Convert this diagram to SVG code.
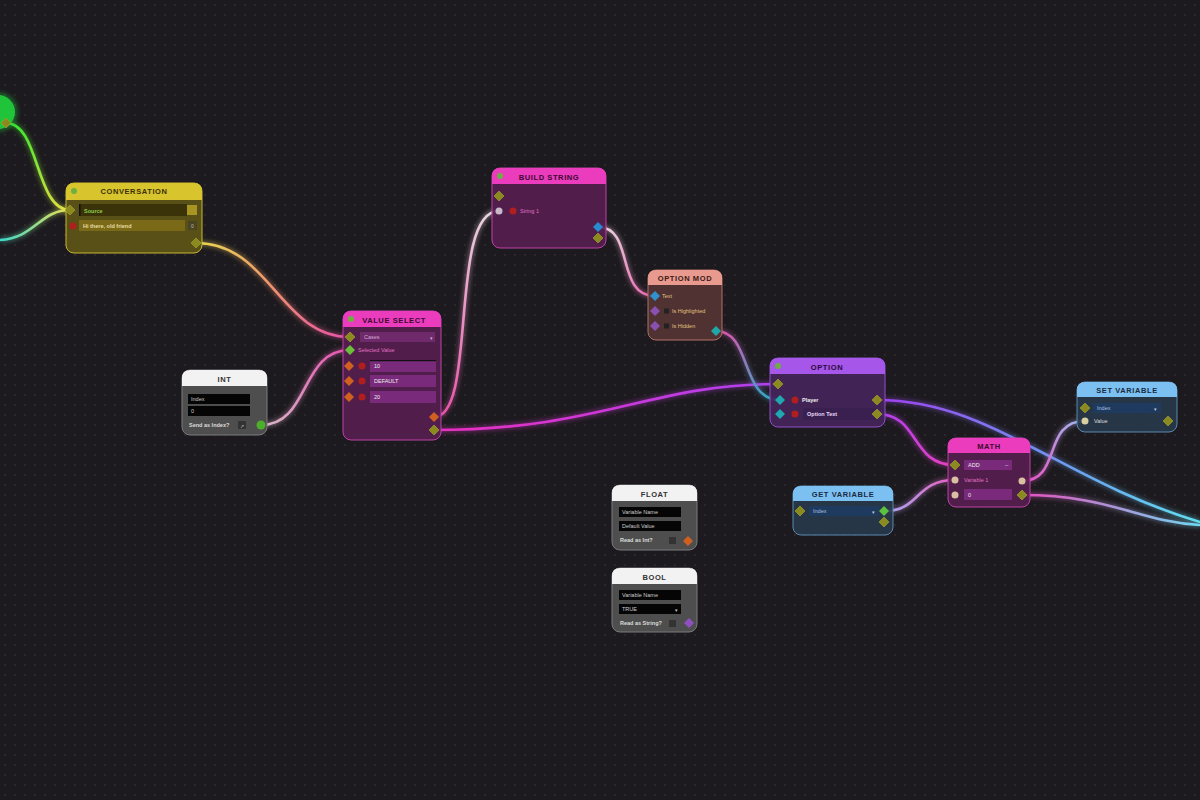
<svg xmlns="http://www.w3.org/2000/svg" width="1200" height="800" viewBox="0 0 1200 800">
<defs>
<pattern id="grid" width="10" height="10" patternUnits="userSpaceOnUse">
<rect width="10" height="10" fill="#1c1a1e"/>
<rect x="4" y="4" width="2" height="2" fill="#2b292d"/>
</pattern>
<filter id="glow" x="-20%" y="-20%" width="140%" height="140%">
<feGaussianBlur stdDeviation="2"/>
</filter>
<linearGradient id="g1" gradientUnits="userSpaceOnUse" x1="6" y1="123" x2="70" y2="210"><stop offset="0" stop-color="#30e830"/><stop offset="1" stop-color="#e8e040"/></linearGradient>
<linearGradient id="g2" gradientUnits="userSpaceOnUse" x1="0" y1="240" x2="70" y2="210"><stop offset="0" stop-color="#40d8c8"/><stop offset="1" stop-color="#e8e050"/></linearGradient>
<linearGradient id="g3" gradientUnits="userSpaceOnUse" x1="196" y1="243" x2="350" y2="337"><stop offset="0" stop-color="#e8d850"/><stop offset="0.5" stop-color="#f09070"/><stop offset="1" stop-color="#e850a8"/></linearGradient>
<linearGradient id="g4" gradientUnits="userSpaceOnUse" x1="261" y1="425" x2="350" y2="350"><stop offset="0" stop-color="#d8b8c8"/><stop offset="1" stop-color="#e850b0"/></linearGradient>
<linearGradient id="g5" gradientUnits="userSpaceOnUse" x1="434" y1="417" x2="499" y2="211"><stop offset="0" stop-color="#e850a8"/><stop offset="1" stop-color="#e8d8e0"/></linearGradient>
<linearGradient id="g6" gradientUnits="userSpaceOnUse" x1="434" y1="430" x2="778" y2="384"><stop offset="0" stop-color="#e830c0"/><stop offset="1" stop-color="#b040f0"/></linearGradient>
<linearGradient id="g7" gradientUnits="userSpaceOnUse" x1="598" y1="227" x2="655" y2="296"><stop offset="0" stop-color="#e8d8e0"/><stop offset="1" stop-color="#e868b0"/></linearGradient>
<linearGradient id="g8" gradientUnits="userSpaceOnUse" x1="716" y1="331" x2="780" y2="400"><stop offset="0" stop-color="#e850b0"/><stop offset="1" stop-color="#20b0c8"/></linearGradient>
<linearGradient id="g9" gradientUnits="userSpaceOnUse" x1="877" y1="400" x2="1200" y2="522"><stop offset="0" stop-color="#a040f0"/><stop offset="0.5" stop-color="#7090f0"/><stop offset="1" stop-color="#60e0f0"/></linearGradient>
<linearGradient id="g10" gradientUnits="userSpaceOnUse" x1="877" y1="414" x2="955" y2="465"><stop offset="0" stop-color="#b040f0"/><stop offset="1" stop-color="#e840c0"/></linearGradient>
<linearGradient id="g11" gradientUnits="userSpaceOnUse" x1="885" y1="511" x2="955" y2="480"><stop offset="0" stop-color="#a8a8f0"/><stop offset="1" stop-color="#e860c0"/></linearGradient>
<linearGradient id="g12" gradientUnits="userSpaceOnUse" x1="1022" y1="481" x2="1085" y2="421"><stop offset="0" stop-color="#e850c0"/><stop offset="1" stop-color="#a0b8f0"/></linearGradient>
<linearGradient id="g13" gradientUnits="userSpaceOnUse" x1="1022" y1="495" x2="1200" y2="525"><stop offset="0" stop-color="#e850c0"/><stop offset="1" stop-color="#70d8f0"/></linearGradient>
</defs>
<style>
text{font-family:"Liberation Sans","DejaVu Sans",sans-serif}
.wire{fill:none;stroke-width:2.6;stroke-linecap:round}
.halo{fill:none;stroke-width:6;opacity:0.35;filter:url(#glow)}
.title{font-size:7.5px;font-weight:bold;letter-spacing:0.6px;text-anchor:middle}
.lbl{font-size:5.5px}
.olive{fill:#8a8a1e;stroke:#a8a830;stroke-width:0.6}
.red{fill:#b01e1e}
.hdot{fill:#6cb040}
</style>
<rect width="1200" height="800" fill="url(#grid)"/>

<g id="connectors">
<path class="halo" stroke="url(#g1)" d="M6,123 C40,123 35,210 70,210"/>
<path class="wire" stroke="url(#g1)" d="M6,123 C40,123 35,210 70,210"/>
<path class="halo" stroke="url(#g2)" d="M0,240 C35,238 40,210 70,210"/>
<path class="wire" stroke="url(#g2)" d="M0,240 C35,238 40,210 70,210"/>
<path class="halo" stroke="url(#g3)" d="M196,243 C270,243 280,337 350,337"/>
<path class="wire" stroke="url(#g3)" d="M196,243 C270,243 280,337 350,337"/>
<path class="halo" stroke="url(#g4)" d="M261,425 C310,425 300,350 350,350"/>
<path class="wire" stroke="url(#g4)" d="M261,425 C310,425 300,350 350,350"/>
<path class="halo" stroke="url(#g5)" d="M434,417 C478,417 448,211 499,211"/>
<path class="wire" stroke="url(#g5)" d="M434,417 C478,417 448,211 499,211"/>
<path class="halo" stroke="url(#g6)" d="M434,430 C600,430 650,384 778,384"/>
<path class="wire" stroke="url(#g6)" d="M434,430 C600,430 650,384 778,384"/>
<path class="halo" stroke="url(#g7)" d="M598,227 C635,227 615,296 655,296"/>
<path class="wire" stroke="url(#g7)" d="M598,227 C635,227 615,296 655,296"/>
<path class="halo" stroke="url(#g8)" d="M716,331 C752,331 740,400 780,400"/>
<path class="wire" stroke="url(#g8)" d="M716,331 C752,331 740,400 780,400"/>
<path class="halo" stroke="url(#g9)" d="M877,400 C990,400 1060,480 1200,522"/>
<path class="wire" stroke="url(#g9)" d="M877,400 C990,400 1060,480 1200,522"/>
<path class="halo" stroke="url(#g10)" d="M877,414 C920,414 910,465 955,465"/>
<path class="wire" stroke="url(#g10)" d="M877,414 C920,414 910,465 955,465"/>
<path class="halo" stroke="url(#g11)" d="M885,511 C920,511 915,480 955,480"/>
<path class="wire" stroke="url(#g11)" d="M885,511 C920,511 915,480 955,480"/>
<path class="halo" stroke="url(#g12)" d="M1022,481 C1062,481 1042,421 1085,421"/>
<path class="wire" stroke="url(#g12)" d="M1022,481 C1062,481 1042,421 1085,421"/>
<path class="halo" stroke="url(#g13)" d="M1022,495 C1110,495 1140,522 1200,525"/>
<path class="wire" stroke="url(#g13)" d="M1022,495 C1110,495 1140,522 1200,525"/>
</g>

<g id="node-start">
<circle cx="-2" cy="112" r="20" fill="#22d040" opacity="0.35" filter="url(#glow)"/>
<circle cx="-2" cy="112" r="17" fill="#1fc43a"/>
<path class="olive" d="M6,118 L11,123 L6,128 L1,123 Z"/>
</g>

<g id="node-conversation">
<rect x="66" y="183" width="136" height="70" rx="8" fill="#5d5516" fill-opacity="0.92" stroke="#c8b830" stroke-width="1"/>
<path d="M66,200 V191 Q66,183 74,183 H194 Q202,183 202,191 V200 Z" fill="#d8c42c"/>
<circle class="hdot" cx="74" cy="191" r="3"/>
<text class="title" x="134" y="194" fill="#3a3008">CONVERSATION</text>
<path class="olive" d="M70,205 L75,210 L70,215 L65,210 Z"/>
<rect x="79" y="204" width="108" height="12" fill="#3a3208"/>
<rect x="79" y="204" width="1.5" height="12" fill="#111"/>
<text class="lbl" x="84" y="212.5" fill="#8ed04a" font-weight="bold">Source</text>
<rect x="187" y="205" width="10" height="10" fill="#a89420"/>
<circle class="red" cx="73" cy="226" r="3.5"/>
<rect x="79" y="220" width="106" height="11" fill="#7a6a18"/>
<text class="lbl" x="83" y="228" fill="#e8dca0" font-weight="bold">Hi there, old friend</text>
<rect x="188" y="221" width="9" height="9" fill="#4a4520"/>
<text x="192.5" y="228" font-size="5" fill="#bbb" text-anchor="middle">0</text>
<path class="olive" d="M196,238 L201,243 L196,248 L191,243 Z"/>
</g>

<g id="node-int">
<rect x="182" y="370" width="85" height="65" rx="8" fill="#4e4e4e" stroke="#7a7a7a" stroke-width="1"/>
<path d="M182,386 V378 Q182,370 190,370 H259 Q267,370 267,378 V386 Z" fill="#f2f2f2"/>
<text class="title" x="224.5" y="381.5" fill="#333">INT</text>
<rect x="188" y="394" width="62" height="10" fill="#050505"/>
<text class="lbl" x="191" y="401" fill="#ccc">Index</text>
<rect x="188" y="406" width="62" height="10" fill="#050505"/>
<text class="lbl" x="191" y="413" fill="#ccc">0</text>
<text class="lbl" x="189" y="427" fill="#ddd" font-weight="bold">Send as Index?</text>
<rect x="238" y="421" width="8" height="8" fill="#333"/>
<text x="242" y="427.5" font-size="5" fill="#bbb" text-anchor="middle">↗</text>
<circle cx="261" cy="425" r="4.5" fill="#4cae2a"/>
</g>

<g id="node-value-select">
<rect x="343" y="311" width="98" height="129" rx="8" fill="#561e50" fill-opacity="0.92" stroke="#c040a8" stroke-width="1"/>
<path d="M343,327 V319 Q343,311 351,311 H433 Q441,311 441,319 V327 Z" fill="#ea3cbc"/>
<circle class="hdot" cx="351" cy="319" r="3"/>
<text class="title" x="394" y="322.5" fill="#3a0a30">VALUE SELECT</text>
<path class="olive" d="M350,332 L355,337 L350,342 L345,337 Z"/>
<rect x="360" y="332" width="75" height="10" fill="#6e2a6a"/>
<text class="lbl" x="364" y="339" fill="#d8a8d8">Cases</text>
<text x="430" y="339.5" font-size="5" fill="#d8a8d8">▾</text>
<path d="M350,345 L355,350 L350,355 L345,350 Z" fill="#6cbf3a"/>
<text class="lbl" x="358" y="352" fill="#e070c0">Selected Value</text>
<path d="M349,361 L354,366 L349,371 L344,366 Z" fill="#d06020"/>
<circle class="red" cx="362" cy="366" r="3.5"/>
<rect x="370" y="360" width="66" height="12" fill="#7a2a7a"/>
<rect x="370" y="360" width="66" height="1.2" fill="#111"/>
<text class="lbl" x="374" y="368" fill="#eee">10</text>
<path d="M349,376 L354,381 L349,386 L344,381 Z" fill="#d06020"/>
<circle class="red" cx="362" cy="381" r="3.5"/>
<rect x="370" y="375" width="66" height="12" fill="#7a2a7a"/>
<text class="lbl" x="374" y="383" fill="#eee">DEFAULT</text>
<path d="M349,392 L354,397 L349,402 L344,397 Z" fill="#d06020"/>
<circle class="red" cx="362" cy="397" r="3.5"/>
<rect x="370" y="391" width="66" height="12" fill="#7a2a7a"/>
<text class="lbl" x="374" y="399" fill="#eee">20</text>
<path d="M434,412 L439,417 L434,422 L429,417 Z" fill="#d06020"/>
<path class="olive" d="M434,425 L439,430 L434,435 L429,430 Z"/>
</g>

<g id="node-build-string">
<rect x="492" y="168" width="114" height="80" rx="8" fill="#561e50" fill-opacity="0.92" stroke="#c040a8" stroke-width="1"/>
<path d="M492,184 V176 Q492,168 500,168 H598 Q606,168 606,176 V184 Z" fill="#ea3cbc"/>
<circle class="hdot" cx="500" cy="176" r="3"/>
<text class="title" x="549" y="179.5" fill="#3a0a30">BUILD STRING</text>
<path class="olive" d="M499,191 L504,196 L499,201 L494,196 Z"/>
<circle cx="499" cy="211" r="3.5" fill="#c8b8c8"/>
<circle class="red" cx="513" cy="211" r="3.5"/>
<text class="lbl" x="520" y="213" fill="#e070c0">String 1</text>
<path d="M598,222 L603,227 L598,232 L593,227 Z" fill="#2a8ad0"/>
<path class="olive" d="M598,233 L603,238 L598,243 L593,238 Z"/>
</g>

<g id="node-option-mod">
<rect x="648" y="270" width="74" height="70" rx="8" fill="#553434" fill-opacity="0.92" stroke="#b07068" stroke-width="1"/>
<path d="M648,285 V278 Q648,270 656,270 H714 Q722,270 722,278 V285 Z" fill="#e99a8e"/>
<text class="title" x="685" y="281" fill="#3a1a18" font-size="7">OPTION MOD</text>
<path d="M655,291 L660,296 L655,301 L650,296 Z" fill="#3090d0"/>
<text class="lbl" x="662" y="298" fill="#e0c080">Text</text>
<path d="M655,306 L660,311 L655,316 L650,311 Z" fill="#8a50b0"/>
<rect x="664" y="308.5" width="5" height="5" fill="#222"/>
<text class="lbl" x="672" y="313" fill="#e0c080">Is Highlighted</text>
<path d="M655,321 L660,326 L655,331 L650,326 Z" fill="#8a50b0"/>
<rect x="664" y="323.5" width="5" height="5" fill="#222"/>
<text class="lbl" x="672" y="328" fill="#e0c080">Is Hidden</text>
<path d="M716,326 L721,331 L716,336 L711,331 Z" fill="#20a8a8"/>
</g>

<g id="node-option">
<rect x="770" y="358" width="115" height="69" rx="8" fill="#44245a" fill-opacity="0.92" stroke="#9050c8" stroke-width="1"/>
<path d="M770,374 V366 Q770,358 778,358 H877 Q885,358 885,366 V374 Z" fill="#a656e8"/>
<circle class="hdot" cx="778" cy="366" r="3"/>
<text class="title" x="827" y="369.5" fill="#2a0a40">OPTION</text>
<path class="olive" d="M778,379 L783,384 L778,389 L773,384 Z"/>
<path d="M780,395 L785,400 L780,405 L775,400 Z" fill="#20a8b0"/>
<circle class="red" cx="795" cy="400" r="3.5"/>
<text class="lbl" x="802" y="402" fill="#eee" font-weight="bold">Player</text>
<path d="M780,409 L785,414 L780,419 L775,414 Z" fill="#20a8b0"/>
<circle class="red" cx="795" cy="414" r="3.5"/>
<rect x="803" y="408" width="74" height="12" fill="#3a2050"/>
<text class="lbl" x="807" y="416" fill="#e8d8f8" font-weight="bold">Option Text</text>
<path class="olive" d="M877,395 L882,400 L877,405 L872,400 Z"/>
<path class="olive" d="M877,409 L882,414 L877,419 L872,414 Z"/>
</g>

<g id="node-math">
<rect x="948" y="438" width="82" height="69" rx="8" fill="#561e50" fill-opacity="0.92" stroke="#c040a8" stroke-width="1"/>
<path d="M948,453 V446 Q948,438 956,438 H1022 Q1030,438 1030,446 V453 Z" fill="#ea3cbc"/>
<text class="title" x="989" y="449" fill="#3a0a30">MATH</text>
<path class="olive" d="M955,460 L960,465 L955,470 L950,465 Z"/>
<rect x="964" y="460" width="48" height="10" fill="#7a2a7a"/>
<text class="lbl" x="968" y="467" fill="#eee">ADD</text>
<text x="1005" y="467" font-size="6" fill="#ddd">–</text>
<circle cx="955" cy="480" r="3.5" fill="#d8c0a0"/>
<text class="lbl" x="964" y="482" fill="#e070c0">Variable 1</text>
<circle cx="955" cy="495" r="3.5" fill="#d8c0a0"/>
<rect x="964" y="489" width="48" height="11" fill="#7a2a7a"/>
<text class="lbl" x="968" y="497" fill="#eee">0</text>
<circle cx="1022" cy="481" r="3.5" fill="#d8c0a0"/>
<path class="olive" d="M1022,490 L1027,495 L1022,500 L1017,495 Z"/>
</g>

<g id="node-set-variable">
<rect x="1077" y="382" width="100" height="50" rx="8" fill="#28384a" fill-opacity="0.92" stroke="#5a88b0" stroke-width="1"/>
<path d="M1077,397 V390 Q1077,382 1085,382 H1169 Q1177,382 1177,390 V397 Z" fill="#7cc0f2"/>
<text class="title" x="1127" y="393" fill="#1a2a40" font-size="7">SET VARIABLE</text>
<path class="olive" d="M1085,403 L1090,408 L1085,413 L1080,408 Z"/>
<rect x="1093" y="403" width="68" height="10" fill="#1e3a5e"/>
<text class="lbl" x="1097" y="410" fill="#a8c0e0">Index</text>
<text x="1154" y="410.5" font-size="5" fill="#ccc">▾</text>
<circle cx="1085" cy="421" r="3.5" fill="#d8d0a0"/>
<text class="lbl" x="1094" y="423" fill="#ddd">Value</text>
<path class="olive" d="M1168,416 L1173,421 L1168,426 L1163,421 Z"/>
</g>

<g id="node-get-variable">
<rect x="793" y="486" width="100" height="49" rx="8" fill="#28384a" fill-opacity="0.92" stroke="#5a88b0" stroke-width="1"/>
<path d="M793,501 V494 Q793,486 801,486 H885 Q893,486 893,494 V501 Z" fill="#7cc0f2"/>
<text class="title" x="843" y="497" fill="#1a2a40" font-size="7">GET VARIABLE</text>
<path class="olive" d="M800,506 L805,511 L800,516 L795,511 Z"/>
<rect x="809" y="506" width="70" height="10" fill="#1e3a5e"/>
<text class="lbl" x="813" y="513" fill="#a8c0e0">Index</text>
<text x="872" y="513.5" font-size="5" fill="#ccc">▾</text>
<path d="M884,506 L889,511 L884,516 L879,511 Z" fill="#5cc040"/>
<path class="olive" d="M884,517 L889,522 L884,527 L879,522 Z"/>
</g>

<g id="node-float">
<rect x="612" y="485" width="85" height="65" rx="8" fill="#4e4e4e" stroke="#7a7a7a" stroke-width="1"/>
<path d="M612,501 V493 Q612,485 620,485 H689 Q697,485 697,493 V501 Z" fill="#f2f2f2"/>
<text class="title" x="654.5" y="496.5" fill="#333">FLOAT</text>
<rect x="619" y="507" width="62" height="10" fill="#050505"/>
<text class="lbl" x="622" y="514" fill="#ccc">Variable Name</text>
<rect x="619" y="521" width="62" height="10" fill="#050505"/>
<text class="lbl" x="622" y="528" fill="#ccc">Default Value</text>
<text class="lbl" x="620" y="542" fill="#ddd" font-weight="bold">Read as Int?</text>
<rect x="669" y="537" width="7" height="7" fill="#333"/>
<path d="M688,536 L693,541 L688,546 L683,541 Z" fill="#d06020"/>
</g>

<g id="node-bool">
<rect x="612" y="568" width="85" height="64" rx="8" fill="#4e4e4e" stroke="#7a7a7a" stroke-width="1"/>
<path d="M612,584 V576 Q612,568 620,568 H689 Q697,568 697,576 V584 Z" fill="#f2f2f2"/>
<text class="title" x="654.5" y="579.5" fill="#333">BOOL</text>
<rect x="619" y="590" width="62" height="10" fill="#050505"/>
<text class="lbl" x="622" y="597" fill="#ccc">Variable Name</text>
<rect x="619" y="604" width="62" height="10" fill="#050505"/>
<text class="lbl" x="622" y="611" fill="#ccc">TRUE</text>
<text x="675" y="611.5" font-size="5" fill="#ccc">▾</text>
<text class="lbl" x="620" y="625" fill="#ddd" font-weight="bold">Read as String?</text>
<rect x="669" y="620" width="7" height="7" fill="#333"/>
<path d="M689,618 L694,623 L689,628 L684,623 Z" fill="#9050c0"/>
</g>
</svg>
